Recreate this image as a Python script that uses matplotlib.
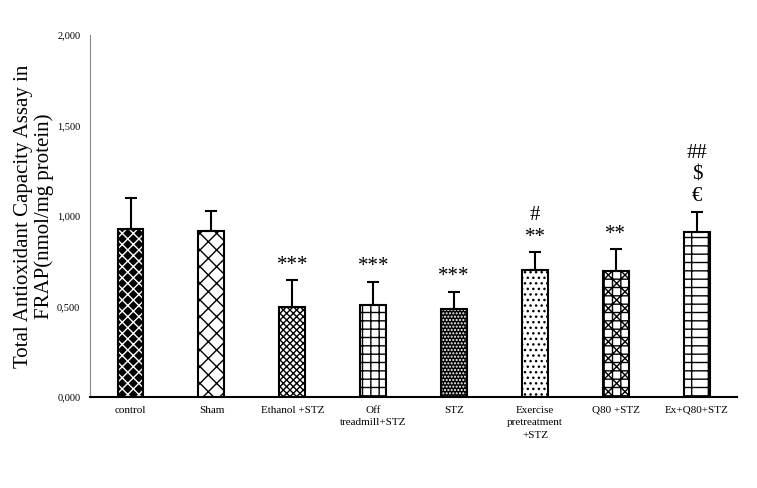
import numpy as np
import matplotlib.pyplot as plt
from matplotlib.ticker import FuncFormatter

plt.rcParams['font.family'] = ['Liberation Serif', 'DejaVu Serif']

groups = ["control", "Sham", "Ethanol +STZ", "Off\ntreadmill+STZ", "STZ",
          "Exercise\npretreatment\n+STZ", "Q80 +STZ", "Ex+Q80+STZ"]
means = [928, 919, 500, 510, 485, 700, 695, 912]
sem = [175, 108, 147, 128, 98, 100, 122, 113]
marks = ["", "", "***", "***", "***", "#\n**", "**", "##\n$\n€"]

# pattern per bar: (face, hatch colour, hatch)
styles = [("black", "white", "xxx"),
          ("white", "black", "xx"),
          ("white", "black", "xxxxx"),
          ("white", "black", "++"),
          ("black", "white", "....."),
          ("white", "black", "..."),
          ("white", "black", "xx++"),
          ("white", "black", "--|")]

fig = plt.figure(figsize=(7.57, 4.88), dpi=100)
ax = fig.add_axes([0.119, 0.186, 0.855, 0.742])

x = np.arange(len(groups))
w = 0.32
for i in range(len(groups)):
    face, hc, h = styles[i]
    ax.bar(x[i], means[i], w, color=face, edgecolor=hc, hatch=h, linewidth=0, zorder=2)
ax.bar(x, means, w, fill=False, edgecolor="black", linewidth=1.5, zorder=3)
ax.errorbar(x, means, yerr=[np.zeros(len(sem)), sem], fmt="none", ecolor="black",
            elinewidth=1.5, capsize=4, capthick=1.5, zorder=4)

for i in range(len(groups)):
    if marks[i]:
        ax.annotate(marks[i], (x[i], means[i] + sem[i]), xytext=(0, 4),
                    textcoords="offset points", ha="center", va="bottom",
                    fontsize=15, linespacing=1.2)

ax.set_xlim(-0.5, 7.5)
ax.set_ylim(0, 2000)
ax.set_yticks([0, 500, 1000, 1500, 2000])
ax.yaxis.set_major_formatter(FuncFormatter(lambda v, p: f"{v/1000:.3f}".replace(".", ",")))
ax.set_xticks(x)
ax.set_xticklabels(groups, fontsize=8, linespacing=1.5)
ax.tick_params(axis="y", labelsize=7.5, length=0, pad=7)
ax.tick_params(axis="x", length=0, pad=6)

for s in ["top", "right"]:
    ax.spines[s].set_visible(False)
ax.spines["left"].set_color("#888888")
ax.spines["bottom"].set_linewidth(1.5)

ax.set_ylabel("Total Antioxidant Capacity Assay in\nFRAP(nmol/mg protein)", fontsize=15,
              linespacing=1.1, labelpad=2)

fig.savefig("out.png", dpi=100)
